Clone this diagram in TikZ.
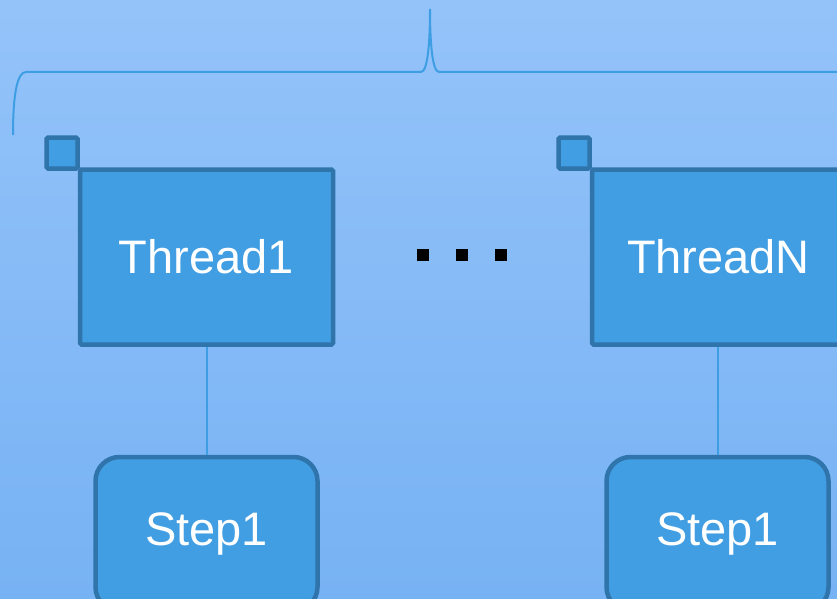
\documentclass[tikz,border=0pt]{standalone}
\usepackage{fontspec}
\setmainfont{Liberation Sans}
\usetikzlibrary{positioning}
\definecolor{bgtop}{HTML}{94C3F9}
\definecolor{bgbot}{HTML}{77B2F4}
\definecolor{boxfill}{HTML}{419EE3}
\definecolor{boxline}{HTML}{2F74AB}
\definecolor{linkline}{HTML}{3E9EE3}
\begin{document}
\begin{tikzpicture}[x=1pt,y=-1pt,
    thread/.style={draw=boxline,fill=boxfill,line width=4.5pt,rounded corners=1.5pt,
      minimum width=253pt,minimum height=175pt,inner sep=0pt,text=white,
      font=\fontsize{47}{50}\selectfont},
    tag/.style={draw=boxline,fill=boxfill,line width=4.5pt,rounded corners=1.5pt,
      minimum size=31pt,inner sep=0pt},
    stepbox/.style={draw=boxline,fill=boxfill,line width=4.5pt,rounded corners=24pt,
      minimum width=222pt,minimum height=154pt,inner sep=0pt,text=white,
      font=\fontsize{47}{50}\selectfont},
    link/.style={draw=linkline,line width=2pt}]
  % 背景
  \useasboundingbox (0,0) rectangle (837,599);
  \clip (0,0) rectangle (837,599);
  \shade[top color=bgtop,bottom color=bgbot] (0,0) rectangle (837,599);

  % 括弧
  \draw[link] (13,135) .. controls (13,95) and (17,72) .. (26,72) -- (421,72)
    .. controls (428,72) and (430,40) .. (430,9)
    .. controls (430,40) and (432,72) .. (439,72) -- (850,72);

  % スレッド
  \node[tag] (tag1) at (62,153) {};
  \node[tag] (tagN) at (574,153) {};
  \node[thread] (thread1) at (206.5,257) {Thread1};
  \node[thread] (threadN) at (718.5,257) {ThreadN};

  % ステップ
  \node[stepbox] (step1) at (206.5,534) {Step1};
  \node[stepbox] (stepN) at (717.5,534) {Step1};
  \draw[link] (thread1.south) -- (step1.north);
  \draw[link] (stepN.north |- threadN.south) -- (stepN.north);

  % 省略記号
  \foreach \x in {423,462,501}
    \fill (\x-6,249) rectangle (\x+6,261);
\end{tikzpicture}
\end{document}
